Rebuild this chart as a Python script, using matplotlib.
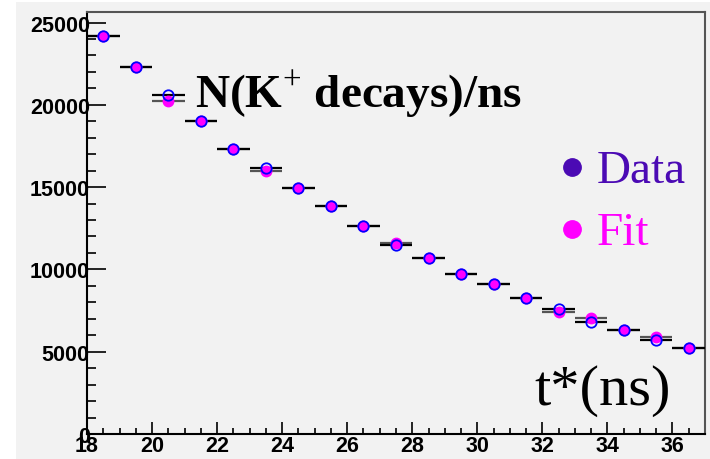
import matplotlib
matplotlib.use("Agg")
import matplotlib.pyplot as plt
from matplotlib.patches import Rectangle
import numpy as np

plt.rcParams['mathtext.fontset'] = 'custom'
plt.rcParams['mathtext.rm'] = 'Liberation Serif'
plt.rcParams['mathtext.bf'] = 'Liberation Serif:bold'

# decay-time bins (ns) and counts per bin
bin_lo = np.arange(18, 37)
data = [24180, 22300, 20600, 19030, 17310, 16180, 14950, 13850, 12640, 11480,
        10690, 9700, 9110, 8260, 7590, 6820, 6320, 5710, 5240]
fit = [24200, 22300, 20230, 19030, 17330, 15980, 14950, 13850, 12640, 11580,
       10690, 9700, 9110, 8260, 7430, 7030, 6320, 5870, 5240]

centers = bin_lo + 0.5

fig = plt.figure(figsize=(7.1, 4.6), dpi=100, facecolor="white")
fig.patches.append(Rectangle((16 / 710, 0), 1, 457 / 460, transform=fig.transFigure,
                             facecolor="#f2f2f2", edgecolor="none", zorder=-10))
ax = fig.add_axes([87 / 710, 25 / 460, 618 / 710, 422 / 460])
ax.set_facecolor("#f2f2f2")

# bin-width bars, fit underneath data
ax.hlines(fit, bin_lo, bin_lo + 1, color="#555555", lw=1.6, zorder=2)
ax.hlines(data, bin_lo, bin_lo + 1, color="black", lw=1.6, zorder=3)
ax.plot(centers, fit, "o", color="#ff00ff", ms=7.5, mec="#ff00ff", zorder=4)
ax.plot(centers, data, "o", mfc="none", mec="#0000ff", mew=1.3, ms=7.5, zorder=5)

ax.set_xlim(18, 37)
ax.set_ylim(0, 25640)
ax.set_xticks(np.arange(18, 37, 2))
ax.set_xticks(np.arange(18, 37, 0.5), minor=True)
ax.set_yticks(np.arange(0, 25001, 5000))
ax.set_yticks(np.arange(0, 25001, 1000), minor=True)

ax.tick_params(axis="y", which="major", direction="in", length=13.5, width=1.2, pad=-2)
ax.tick_params(axis="y", which="minor", direction="in", length=6.5, width=1.2)
ax.tick_params(axis="x", which="major", direction="in", length=8.5, width=1.2, pad=1)
ax.tick_params(axis="x", which="minor", direction="in", length=4.3, width=1.2)
for lab in ax.get_xticklabels() + ax.get_yticklabels():
    lab.set_fontfamily("Liberation Sans")
    lab.set_fontweight("bold")
    lab.set_fontsize(15.5)

for s in ["left", "bottom"]:
    ax.spines[s].set_linewidth(1.5)
    ax.spines[s].set_color("black")
for s in ["top", "right"]:
    ax.spines[s].set_linewidth(1.5)
    ax.spines[s].set_color("#555555")

ax.text(0.175, 0.775, r"N(K$^{+}$ decays)/ns", transform=ax.transAxes,
        fontfamily="Liberation Serif", fontweight="bold", fontsize=34, va="baseline")
ax.text(0.944, 0.071, "t*(ns)", transform=ax.transAxes, ha="right", va="baseline",
        fontfamily="Liberation Serif", fontsize=42)

# legend entries
ax.plot(0.785, 0.633, "o", color="#4b0ab4", ms=12.5, transform=ax.transAxes, clip_on=False)
ax.text(0.825, 0.597, "Data", color="#4b0ab4", transform=ax.transAxes,
        fontfamily="Liberation Serif", fontsize=34, va="baseline")
ax.plot(0.785, 0.486, "o", color="#ff00ff", ms=12.5, transform=ax.transAxes, clip_on=False)
ax.text(0.825, 0.450, "Fit", color="#ff00ff", transform=ax.transAxes,
        fontfamily="Liberation Serif", fontsize=34, va="baseline")

fig.savefig("out.png", dpi=100)
